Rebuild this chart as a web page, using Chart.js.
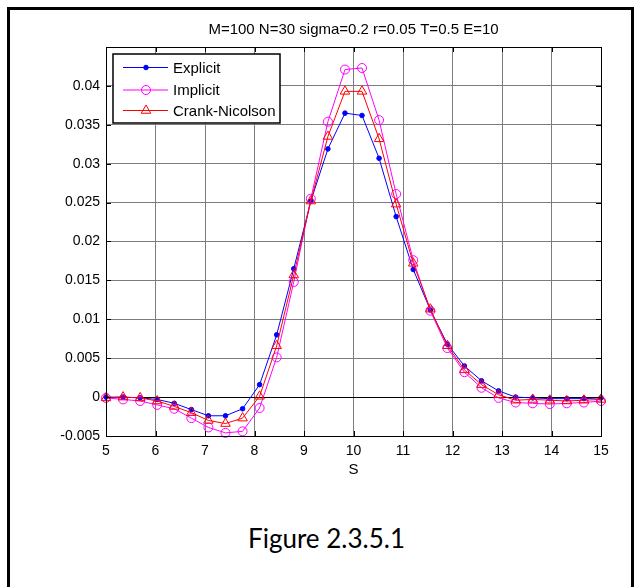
<!DOCTYPE html>
<html>
<head>
<meta charset="utf-8">
<title>M=100 N=30 sigma=0.2 r=0.05 T=0.5 E=10</title>
<script src="https://cdn.jsdelivr.net/npm/chart.js@4.4.1/dist/chart.umd.min.js"></script>
<style>
  html, body { margin: 0; padding: 0; background: #fff; overflow: hidden; }
  #page { position: relative; width: 635px; height: 587px; }
  #frame { position: absolute; left: 7px; top: 7px; width: 621px; height: 600px; border: 3px solid #000; }
  #chart { position: absolute; left: 0; top: 0; }
  #caption { position: absolute; left: 0; top: 522px; width: 653px; text-align: center;
             font: 26px Lato, "Noto Sans", sans-serif; color: #000; }
</style>
</head>
<body>
<div id="page">
  <div id="frame"></div>
  <canvas id="chart" width="635" height="480"></canvas>
  <div id="caption">Figure 2.3.5.1</div>
</div>
<script>
// S grid (N=30 points between 5 and 15)
const sValues = [5.000, 5.345, 5.690, 6.034, 6.379, 6.724, 7.069, 7.414, 7.759, 8.103,
                 8.448, 8.793, 9.138, 9.483, 9.828, 10.172, 10.517, 10.862, 11.207, 11.552,
                 11.897, 12.241, 12.586, 12.931, 13.276, 13.621, 13.966, 14.310, 14.655, 15.000];

// 三種解法的值
const explicitValues = [0, 0, -0.0001, -0.0003, -0.0008, -0.0016, -0.0024, -0.0024, -0.0015, 0.0016,
                        0.0080, 0.0165, 0.0252, 0.0319, 0.0365, 0.0362, 0.0307, 0.0232, 0.0164, 0.0112,
                        0.0068, 0.0040, 0.0021, 0.0008, 0.0000, -0.0001, -0.0002, -0.0002, -0.0002, -0.0001];
const implicitValues = [-0.0001, -0.0003, -0.0005, -0.0010, -0.0015, -0.0027, -0.0039, -0.0046, -0.0044, -0.0014,
                        0.0051, 0.0148, 0.0255, 0.0354, 0.0421, 0.0423, 0.0356, 0.0261, 0.0176, 0.0111,
                        0.0063, 0.0032, 0.0012, -0.0001, -0.0007, -0.0008, -0.0009, -0.0008, -0.0007, -0.0005];
const crankValues = [-0.0001, 0.0000, -0.0001, -0.0005, -0.0012, -0.0020, -0.0030, -0.0034, -0.0027, 0.0001,
                     0.0066, 0.0157, 0.0252, 0.0335, 0.0393, 0.0393, 0.0332, 0.0248, 0.0172, 0.0113,
                     0.0066, 0.0035, 0.0016, 0.0003, -0.0004, -0.0003, -0.0004, -0.0005, -0.0004, -0.0003];

// 座標軸刻度
const xTickValues = [5, 6, 7, 8, 9, 10, 11, 12, 13, 14, 15];
const yTickValues = [-0.005, 0, 0.005, 0.01, 0.015, 0.02, 0.025, 0.03, 0.035, 0.04];
const yTickLabels = ['-0.005', '0', '0.005', '0.01', '0.015', '0.02', '0.025', '0.03', '0.035', '0.04'];

const chartTitle = 'M=100 N=30 sigma=0.2 r=0.05 T=0.5 E=10';
const seriesNames = ['Explicit', 'Implicit', 'Crank-Nicolson'];

const FONT = '"Liberation Sans", Arial, Helvetica, sans-serif';
const GRID = '#7c7c7c';

function toPoints(values) {
  return sValues.map((s, i) => ({ x: s, y: values[i] }));
}

// marker drawing for the legend, same shapes as Chart.js points
function drawMarker(ctx, style, r, x, y, fill) {
  ctx.beginPath();
  if (style === 'triangle') {
    let rad = 0;
    ctx.moveTo(x + Math.sin(rad) * r, y - Math.cos(rad) * r);
    rad += Math.PI * 2 / 3;
    ctx.lineTo(x + Math.sin(rad) * r, y - Math.cos(rad) * r);
    rad += Math.PI * 2 / 3;
    ctx.lineTo(x + Math.sin(rad) * r, y - Math.cos(rad) * r);
    ctx.closePath();
  } else {
    ctx.arc(x, y, r, 0, Math.PI * 2);
  }
  if (fill) ctx.fill();
  ctx.stroke();
}

// MATLAB-like axes: box, inward ticks, title and legend
const matlabAxes = {
  id: 'matlabAxes',
  afterDatasetsDraw(chart) {
    const ctx = chart.ctx;
    const { left, right, top, bottom } = chart.chartArea;
    const xs = chart.scales.x, ys = chart.scales.y;
    ctx.save();
    ctx.strokeStyle = '#000';
    ctx.lineWidth = 1;
    ctx.beginPath();
    xTickValues.forEach(v => {
      const px = Math.round(xs.getPixelForValue(v)) + 0.5;
      ctx.moveTo(px, bottom); ctx.lineTo(px, bottom - 5);
      ctx.moveTo(px, top); ctx.lineTo(px, top + 5);
    });
    yTickValues.forEach(v => {
      const py = Math.round(ys.getPixelForValue(v)) + 0.5;
      ctx.moveTo(left, py); ctx.lineTo(left + 5, py);
      ctx.moveTo(right, py); ctx.lineTo(right - 5, py);
    });
    ctx.stroke();
    ctx.strokeRect(Math.round(left) + 0.5, Math.round(top) + 0.5,
                   Math.round(right - left), Math.round(bottom - top));

    // 標題
    ctx.fillStyle = '#000';
    ctx.font = '15px ' + FONT;
    ctx.textAlign = 'center';
    ctx.textBaseline = 'middle';
    ctx.fillText(chartTitle, (left + right) / 2, 30);

    // 圖例
    const box = { x: 113, y: 54, w: 167, h: 69 };
    const rows = [67.5, 90, 110.5];
    ctx.fillStyle = '#fff';
    ctx.fillRect(box.x, box.y, box.w, box.h);
    ctx.lineWidth = 1.5;
    ctx.strokeRect(box.x, box.y, box.w, box.h);
    const sets = chart.data.datasets;
    sets.forEach((ds, i) => {
      const y = rows[i];
      ctx.strokeStyle = ds.borderColor;
      ctx.fillStyle = ds.pointBackgroundColor;
      ctx.lineWidth = 1;
      ctx.beginPath();
      ctx.moveTo(box.x + 10, y); ctx.lineTo(box.x + 55, y);
      ctx.stroke();
      drawMarker(ctx, ds.pointStyle, ds.pointRadius, box.x + 33, y, ds.pointStyle === 'circle' && ds.pointBackgroundColor !== 'rgba(0,0,0,0)');
      ctx.fillStyle = '#000';
      ctx.font = '15px ' + FONT;
      ctx.textAlign = 'left';
      ctx.textBaseline = 'middle';
      ctx.fillText(ds.label, box.x + 60, y + 1);
    });
    ctx.restore();
  }
};

document.addEventListener('DOMContentLoaded', function () {
  const datasets = [
    {
      label: seriesNames[0],
      data: toPoints(explicitValues),
      borderColor: '#0000ff',
      pointBackgroundColor: '#0000ff',
      pointBorderColor: '#0000ff',
      pointStyle: 'circle',
      pointRadius: 2.3,
      order: 2
    },
    {
      label: seriesNames[1],
      data: toPoints(implicitValues),
      borderColor: '#ff00ff',
      pointBackgroundColor: 'rgba(0,0,0,0)',
      pointBorderColor: '#ff00ff',
      pointStyle: 'circle',
      pointRadius: 4.5,
      order: 1
    },
    {
      label: seriesNames[2],
      data: toPoints(crankValues),
      borderColor: '#ff0000',
      pointBackgroundColor: 'rgba(0,0,0,0)',
      pointBorderColor: '#ff0000',
      pointStyle: 'triangle',
      pointRadius: 5.5,
      order: 0
    }
  ].map(ds => Object.assign({
    borderWidth: 1,
    pointBorderWidth: 1,
    tension: 0,
    fill: false,
    clip: false
  }, ds));

  new Chart(document.getElementById('chart').getContext('2d'), {
    type: 'line',
    data: { datasets },
    options: {
      responsive: false,
      animation: false,
      devicePixelRatio: 1,
      events: [],
      layout: { padding: { left: 10, right: 34, top: 47, bottom: 0 } },
      plugins: { legend: { display: false }, tooltip: { enabled: false }, title: { display: false } },
      scales: {
        x: {
          type: 'linear',
          min: 5,
          max: 15,
          afterBuildTicks: scale => { scale.ticks = xTickValues.map(v => ({ value: v })); },
          afterFit: scale => { scale.height = 44; },
          grid: { color: GRID, lineWidth: 1, drawTicks: false },
          border: { display: false },
          ticks: { color: '#000', font: { family: FONT, size: 14 }, padding: 7, maxRotation: 0, autoSkip: false,
                    callback: v => String(v) },
          title: { display: true, text: 'S', color: '#000', font: { family: FONT, size: 15 },
                   padding: { top: 0, bottom: 1 } }
        },
        y: {
          type: 'linear',
          min: -0.005,
          max: 0.045,
          afterBuildTicks: scale => { scale.ticks = yTickValues.map(v => ({ value: v })); },
          afterFit: scale => { scale.width = 96; },
          grid: {
            color: c => (c.tick && c.tick.value === 0 ? '#000' : GRID),
            lineWidth: 1,
            drawTicks: false
          },
          border: { display: false },
          ticks: { color: '#000', font: { family: FONT, size: 14 }, padding: 6, autoSkip: false,
                   callback: (v, i) => yTickLabels[i] }
        }
      }
    },
    plugins: [matlabAxes]
  });
});
</script>
</body>
</html>
